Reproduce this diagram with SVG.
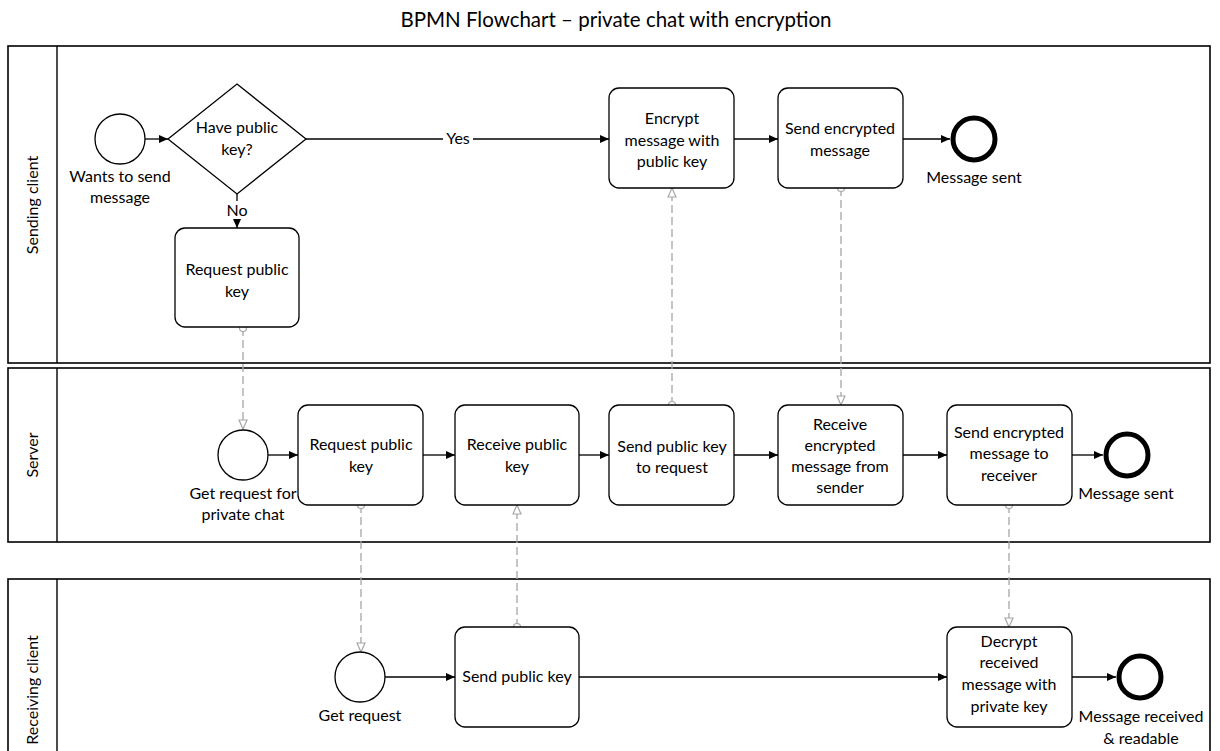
<svg xmlns="http://www.w3.org/2000/svg" width="1220" height="751" viewBox="0 0 1220 751">
<style>
text { font-family: Lato, "Liberation Sans", Arial, sans-serif; font-size: 16px; fill: #000; text-anchor: middle; }
.title { font-size: 20.5px; }
.pool { fill: #fff; stroke: #000; stroke-width: 1.6; }
.div { stroke: #000; stroke-width: 1.4; }
.task { fill: #fff; stroke: #000; stroke-width: 1.3; }
.start { fill: #fff; stroke: #000; stroke-width: 1.3; }
.end { fill: #fff; stroke: #000; stroke-width: 5; }
.gw { fill: #fff; stroke: #000; stroke-width: 1.3; }
.seq { fill: none; stroke: #000; stroke-width: 1.3; marker-end: url(#arrow); }
.msg { fill: none; stroke: #a6a6a6; stroke-width: 1.3; stroke-dasharray: 8 4; marker-start: url(#mstart); marker-end: url(#mend); }
.bg { fill: #fff; stroke: none; }
</style>
<defs>
<marker id="arrow" viewBox="0 0 9 8" refX="9" refY="4" markerWidth="9" markerHeight="8" markerUnits="userSpaceOnUse" orient="auto">
<path d="M0,0 L9,4 L0,8 z" fill="#000"/>
</marker>
<marker id="mend" viewBox="0 0 11 10" refX="10" refY="5" markerWidth="11" markerHeight="10" markerUnits="userSpaceOnUse" orient="auto">
<path d="M1,1 L10,5 L1,9 z" fill="#fff" stroke="#a6a6a6" stroke-width="1.2" stroke-dasharray="none"/>
</marker>
<marker id="mstart" viewBox="0 0 10 10" refX="5" refY="5" markerWidth="10" markerHeight="10" markerUnits="userSpaceOnUse" orient="auto">
<circle cx="5" cy="5" r="3.5" fill="#fff" stroke="#a6a6a6" stroke-width="1.2" stroke-dasharray="none"/>
</marker>
</defs>
<rect width="1220" height="751" fill="#fff"/>
<text class="title" x="616" y="27">BPMN Flowchart – private chat with encryption</text>

<g id="pool-sending">
<rect class="pool" x="8" y="46" width="1202" height="317"/>
<line class="div" x1="57" y1="46" x2="57" y2="363"/>
<text transform="translate(38,205) rotate(-90)">Sending client</text>
</g>
<g id="pool-server">
<rect class="pool" x="8" y="368" width="1202" height="174"/>
<line class="div" x1="57" y1="368" x2="57" y2="542"/>
<text transform="translate(38,455) rotate(-90)">Server</text>
</g>
<g id="pool-receiving">
<rect class="pool" x="8" y="579" width="1202" height="190"/>
<line class="div" x1="57" y1="579" x2="57" y2="769"/>
<text transform="translate(38,690) rotate(-90)">Receiving client</text>
</g>

<g id="connectors">
<line class="seq" x1="145" y1="139" x2="168" y2="139"/>
<line class="seq" x1="237" y1="194" x2="237" y2="228"/>
<line class="seq" x1="306" y1="139" x2="609" y2="139"/>
<line class="seq" x1="734" y1="139" x2="778" y2="139"/>
<line class="seq" x1="903" y1="139" x2="950" y2="139"/>
<line class="seq" x1="268" y1="455" x2="298" y2="455"/>
<line class="seq" x1="423" y1="455" x2="455" y2="455"/>
<line class="seq" x1="579" y1="455" x2="609" y2="455"/>
<line class="seq" x1="734" y1="455" x2="778" y2="455"/>
<line class="seq" x1="903" y1="455" x2="947" y2="455"/>
<line class="seq" x1="1072" y1="455" x2="1103" y2="455"/>
<line class="seq" x1="385" y1="677" x2="455" y2="677"/>
<line class="seq" x1="579" y1="677" x2="947" y2="677"/>
<line class="seq" x1="1072" y1="677" x2="1116" y2="677"/>
<line class="msg" x1="243" y1="328" x2="243" y2="429"/>
<line class="msg" x1="841" y1="188" x2="841" y2="405"/>
<line class="msg" x1="672" y1="405" x2="672" y2="188"/>
<line class="msg" x1="361" y1="505" x2="361" y2="652"/>
<line class="msg" x1="517" y1="627" x2="517" y2="505"/>
<line class="msg" x1="1009" y1="505" x2="1009" y2="627"/>
<rect class="bg" x="443" y="130" width="30" height="18"/>
<text x="458" y="144">Yes</text>
<rect class="bg" x="225" y="201" width="24" height="18"/>
<text x="237" y="216">No</text>
</g>

<g id="start-send">
<circle class="start" cx="120" cy="139" r="25"/>
<text x="120" y="182">Wants to send</text>
<text x="120" y="203">message</text>
</g>
<g id="gw-have-key">
<polygon class="gw" points="237,84 306,139 237,194 168,139"/>
<text x="237" y="133">Have public</text>
<text x="237" y="155">key?</text>
</g>
<g id="task-send-request">
<rect class="task" x="175" y="228" width="124" height="99" rx="10"/>
<text x="237" y="275">Request public</text>
<text x="237" y="297">key</text>
</g>
<g id="task-encrypt">
<rect class="task" x="609" y="88" width="125" height="100" rx="10"/>
<text x="672" y="124">Encrypt</text>
<text x="672" y="146">message with</text>
<text x="672" y="167">public key</text>
</g>
<g id="task-send-encrypted">
<rect class="task" x="778" y="88" width="125" height="100" rx="10"/>
<text x="840" y="134">Send encrypted</text>
<text x="840" y="156">message</text>
</g>
<g id="end-send">
<circle class="end" cx="974" cy="139" r="21"/>
<text x="974" y="183">Message sent</text>
</g>

<g id="start-server">
<circle class="start" cx="243" cy="455" r="25"/>
<text x="243" y="499">Get request for</text>
<text x="243" y="520">private chat</text>
</g>
<g id="task-server-request">
<rect class="task" x="298" y="405" width="125" height="100" rx="10"/>
<text x="361" y="450">Request public</text>
<text x="361" y="472">key</text>
</g>
<g id="task-receive-key">
<rect class="task" x="455" y="405" width="124" height="100" rx="10"/>
<text x="517" y="450">Receive public</text>
<text x="517" y="472">key</text>
</g>
<g id="task-send-key-request">
<rect class="task" x="609" y="405" width="125" height="100" rx="10"/>
<text x="672" y="452">Send public key</text>
<text x="672" y="473">to request</text>
</g>
<g id="task-receive-encrypted">
<rect class="task" x="778" y="405" width="125" height="100" rx="10"/>
<text x="840" y="430">Receive</text>
<text x="840" y="451">encrypted</text>
<text x="840" y="472">message from</text>
<text x="840" y="493">sender</text>
</g>
<g id="task-send-to-receiver">
<rect class="task" x="947" y="405" width="125" height="100" rx="10"/>
<text x="1009" y="438">Send encrypted</text>
<text x="1009" y="459">message to</text>
<text x="1009" y="481">receiver</text>
</g>
<g id="end-server">
<circle class="end" cx="1127" cy="455" r="21"/>
<text x="1126" y="499">Message sent</text>
</g>

<g id="start-receive">
<circle class="start" cx="360" cy="677" r="25"/>
<text x="360" y="721">Get request</text>
</g>
<g id="task-send-public-key">
<rect class="task" x="455" y="627" width="124" height="100" rx="10"/>
<text x="517" y="682">Send public key</text>
</g>
<g id="task-decrypt">
<rect class="task" x="947" y="627" width="125" height="100" rx="10"/>
<text x="1009" y="647">Decrypt</text>
<text x="1009" y="668">received</text>
<text x="1009" y="690">message with</text>
<text x="1009" y="712">private key</text>
</g>
<g id="end-receive">
<circle class="end" cx="1140" cy="677" r="21"/>
<text x="1141" y="722">Message received</text>
<text x="1141" y="744">&amp; readable</text>
</g>
</svg>
